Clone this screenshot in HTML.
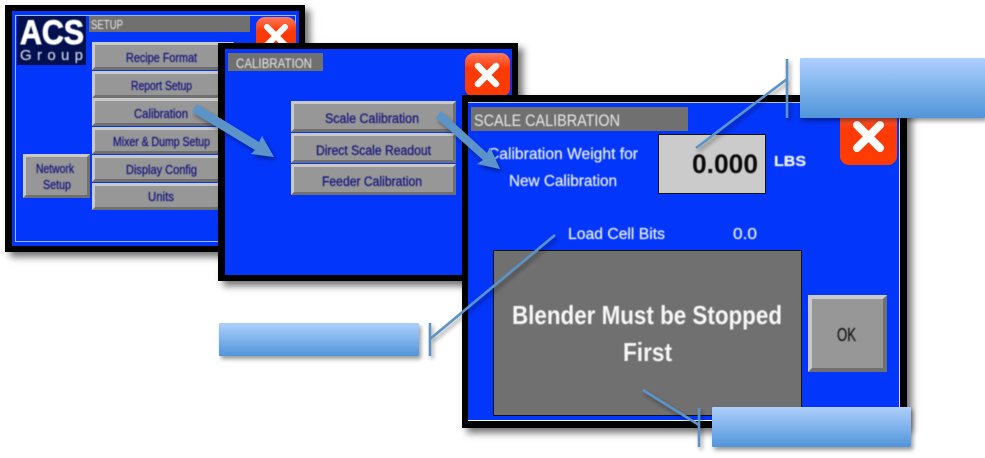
<!DOCTYPE html>
<html><head><meta charset="utf-8">
<style>
html,body{margin:0;padding:0;background:#fff}
#p{position:relative;width:985px;height:458px;overflow:hidden;background:#fff;font-family:"Liberation Sans",sans-serif}
#p div,#p svg{position:absolute;box-sizing:border-box}
#p svg{left:0;top:0}
.win{background:#000;box-shadow:5px 5px 7px rgba(0,0,0,.55)}
.blue{background:#0336fb}
.bar{background:#707070}
.b{background:#979797;border:3px solid;border-color:#c9c9c9 #707070 #707070 #c9c9c9}
.x{background:linear-gradient(#ff7a5c,#ff3a08 35%,#ff3c00);border-radius:9px}
.t{filter:blur(.45px)}
.c{background:linear-gradient(#aed0fd,#5095da);box-shadow:2px 3px 4px rgba(0,0,0,.4);border-radius:1px}
text{font-family:"Liberation Sans",sans-serif;stroke-width:.25px}
</style></head><body>
<div id="p">

<!-- Window 1 -->
<div class="win" style="left:5px;top:5px;width:300px;height:247px"></div>
<div class="blue" style="left:12px;top:11px;width:287px;height:235px"></div>
<div style="left:15px;top:15px;width:281px;height:227px;border:1px solid #9db8ff"></div>
<div style="left:17px;top:16px;width:69px;height:49px;background:#00104f"></div>
<div class="bar" style="left:89px;top:16px;width:161px;height:16px"></div>
<div class="x" style="left:256px;top:17px;width:40px;height:40px"></div>
<svg width="985" height="458"><path d="M267 27L285 45M285 27L267 45" stroke="#fff" stroke-width="6" stroke-linecap="round"/></svg>
<div class="b" style="left:92px;top:42px;width:142px;height:28px"></div>
<div class="b" style="left:92px;top:71px;width:142px;height:27px"></div>
<div class="b" style="left:92px;top:98px;width:142px;height:28px"></div>
<div class="b" style="left:92px;top:127px;width:142px;height:27px"></div>
<div class="b" style="left:92px;top:155px;width:142px;height:27px"></div>
<div class="b" style="left:92px;top:183px;width:142px;height:27px"></div>
<div class="b" style="left:23px;top:154px;width:67px;height:44px"></div>
<svg class="t" width="985" height="458">
<text x="20" y="44" font-size="34" font-weight="bold" fill="#fff" stroke="#fff" style="stroke-width:.9px" textLength="64" lengthAdjust="spacingAndGlyphs">ACS</text>
<text x="20" y="60" font-size="15" fill="#c8cede" stroke="#c8cede" textLength="63">Group</text>
<text x="91" y="29" font-size="13" fill="#e8e8e8" textLength="32" lengthAdjust="spacingAndGlyphs">SETUP</text>
<g fill="#14147e" stroke="#14147e" font-size="12.5">
<text x="126" y="62" textLength="71" lengthAdjust="spacingAndGlyphs">Recipe Format</text>
<text x="131" y="90" textLength="61" lengthAdjust="spacingAndGlyphs">Report Setup</text>
<text x="134" y="118" textLength="54" lengthAdjust="spacingAndGlyphs">Calibration</text>
<text x="113" y="146" textLength="97" lengthAdjust="spacingAndGlyphs">Mixer &amp; Dump Setup</text>
<text x="126" y="174" textLength="71" lengthAdjust="spacingAndGlyphs">Display Config</text>
<text x="148" y="201" textLength="26" lengthAdjust="spacingAndGlyphs">Units</text>
<text x="36" y="173" textLength="38" lengthAdjust="spacingAndGlyphs">Network</text>
<text x="43" y="189" textLength="28" lengthAdjust="spacingAndGlyphs">Setup</text>
</g></svg>

<!-- Window 2 -->
<div class="win" style="left:218px;top:43px;width:300px;height:238px"></div>
<div class="blue" style="left:225px;top:49px;width:287px;height:226px"></div>
<div class="bar" style="left:228px;top:53px;width:95px;height:18px"></div>
<div class="x" style="left:465px;top:53px;width:45px;height:44px"></div>
<svg width="985" height="458"><path d="M478 66L496 84M496 66L478 84" stroke="#fff" stroke-width="6.5" stroke-linecap="round"/></svg>
<div class="b" style="left:291px;top:101px;width:165px;height:31px"></div>
<div class="b" style="left:291px;top:133px;width:165px;height:30px"></div>
<div class="b" style="left:291px;top:164px;width:165px;height:31px"></div>
<svg class="t" width="985" height="458">
<text x="236" y="68" font-size="14" fill="#e8e8e8" textLength="76" lengthAdjust="spacingAndGlyphs">CALIBRATION</text>
<g fill="#14147e" stroke="#14147e" font-size="13.5">
<text x="325" y="123" textLength="94" lengthAdjust="spacingAndGlyphs">Scale Calibration</text>
<text x="316" y="155" textLength="115" lengthAdjust="spacingAndGlyphs">Direct Scale Readout</text>
<text x="322" y="186" textLength="100" lengthAdjust="spacingAndGlyphs">Feeder Calibration</text>
</g></svg>

<!-- Window 3 -->
<div class="win" style="left:462px;top:95px;width:445px;height:333px"></div>
<div class="blue" style="left:468px;top:102px;width:432px;height:319px;border-top:1px solid #b9c8ff;border-right:1px solid #d5ddff;border-bottom:1px solid #fff"></div>
<div class="bar" style="left:471px;top:107px;width:217px;height:24px"></div>
<div class="x" style="left:840px;top:108px;width:57px;height:57px"></div>
<svg width="985" height="458"><path d="M857 125L880 148M880 125L857 148" stroke="#fff" stroke-width="8" stroke-linecap="round"/></svg>
<div style="left:658px;top:134px;width:108px;height:60px;background:#cbcbcb;border:1.5px solid #111"></div>
<div style="left:493px;top:250px;width:309px;height:166px;background:#707070;border:1.5px solid #111"></div>
<div class="b" style="left:808px;top:295px;width:79px;height:77px;border-width:4px"></div>
<svg class="t" width="985" height="458">
<text x="474" y="126" font-size="17" fill="#e8e8e8" textLength="146" lengthAdjust="spacingAndGlyphs">SCALE CALIBRATION</text>
<g fill="#e6ecff" stroke="#e6ecff" font-size="16">
<text x="488" y="159" textLength="150" lengthAdjust="spacingAndGlyphs">Calibration Weight for</text>
<text x="509" y="186" textLength="108" lengthAdjust="spacingAndGlyphs">New Calibration</text>
<text x="568" y="239" font-size="15.5" textLength="97" lengthAdjust="spacingAndGlyphs">Load Cell Bits</text>
<text x="733" y="239" font-size="15.5" textLength="24" lengthAdjust="spacingAndGlyphs">0.0</text>
</g>
<text x="692" y="173" font-size="27" font-weight="bold" fill="#0a0a0a" textLength="66" lengthAdjust="spacingAndGlyphs">0.000</text>
<text x="774" y="166" font-size="15" font-weight="bold" fill="#f0f3ff" stroke="#f0f3ff" textLength="32" lengthAdjust="spacingAndGlyphs">LBS</text>
<text x="512" y="324" font-size="26" font-weight="bold" fill="#f7f7f7" textLength="270" lengthAdjust="spacingAndGlyphs">Blender Must be Stopped</text>
<text x="623" y="361" font-size="26" font-weight="bold" fill="#f7f7f7" textLength="49" lengthAdjust="spacingAndGlyphs">First</text>
<text x="837" y="341" font-size="18" fill="#161616" stroke="#161616" textLength="19" lengthAdjust="spacingAndGlyphs">OK</text>
</svg>

<!-- Callouts -->
<div class="c" style="left:800px;top:58px;width:185px;height:60px"></div>
<div class="c" style="left:219px;top:323px;width:200px;height:33px"></div>
<div class="c" style="left:712px;top:407px;width:199px;height:40px"></div>

<!-- Arrows and leaders -->
<svg width="985" height="458">
<defs><filter id="s" x="-20%" y="-20%" width="150%" height="150%"><feDropShadow dx="2" dy="3" stdDeviation="2" flood-color="#000" flood-opacity=".4"/></filter></defs>
<g filter="url(#s)">
<polygon points="197,104 192,112 255,150 251,154 274,157 262,136 259,142" fill="#5b93c8"/>
<polygon points="441,111 436,118 483,160 477,164 500,169 490,147 487,153" fill="#5b93c8"/>
<g fill="none" stroke="#5b93c8" stroke-width="2.6">
<path d="M787 59V118"/><path d="M787 79L696 148"/>
<path d="M430 323V356"/><path d="M430 339L555 235"/>
<path d="M699 408V447"/><path d="M699 425L643 390"/>
</g></g>
</svg>
</div>
</body></html>
